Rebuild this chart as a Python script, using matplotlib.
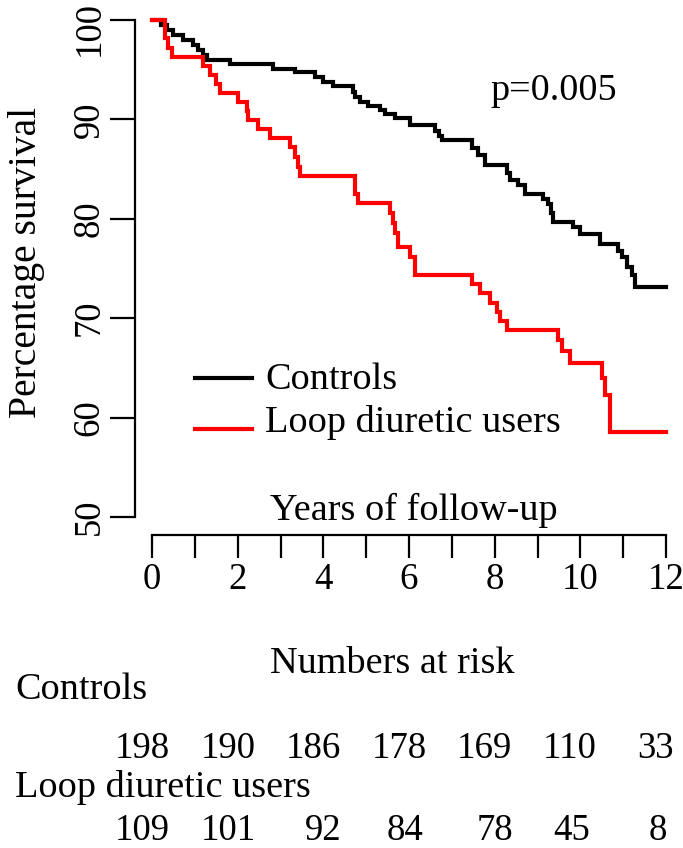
import matplotlib
matplotlib.use("Agg")
import matplotlib.pyplot as plt
from matplotlib.transforms import ScaledTranslation

plt.rcParams['font.family'] = ['Liberation Serif', 'DejaVu Serif']

# Kaplan-Meier steps (years, % surviving)
ctrl_t = [0, 0.20, 0.34, 0.49, 0.72, 0.96, 1.07, 1.19, 1.28, 1.82, 2.83, 3.34, 3.81, 3.99, 4.23,
          4.70, 4.75, 4.86, 5.04, 5.32, 5.44, 5.67, 6.02, 6.61, 6.70, 6.77, 7.47, 7.61, 7.77,
          8.28, 8.36, 8.55, 8.71, 9.13, 9.25, 9.31, 9.36, 9.83, 9.99, 10.46, 10.89, 10.97,
          11.08, 11.20, 11.28, 12.0]
ctrl_s = [100, 99.5, 99.0, 98.5, 98.0, 97.5, 97.0, 96.5, 96.0, 95.6, 95.1, 94.8, 94.3, 93.8, 93.4,
          92.8, 92.3, 91.8, 91.3, 90.9, 90.5, 90.1, 89.4, 88.8, 88.3, 87.9, 87.1, 86.4, 85.4,
          84.6, 83.9, 83.4, 82.5, 82.0, 81.5, 80.6, 79.7, 79.2, 78.5, 77.5, 76.8, 76.2,
          75.2, 74.3, 73.1, 73.1]

loop_t = [0, 0.30, 0.38, 0.46, 1.20, 1.35, 1.50, 1.59, 2.01, 2.21, 2.25, 2.48, 2.76, 3.22, 3.34,
          3.42, 3.46, 4.74, 4.82, 5.56, 5.63, 5.68, 5.74, 6.02, 6.14, 7.46, 7.66, 7.89, 8.05,
          8.13, 8.28, 9.48, 9.57, 9.76, 10.50, 10.58, 10.69, 12.0]
loop_s = [100, 98.2, 97.2, 96.3, 95.4, 94.5, 93.6, 92.7, 91.8, 90.8, 89.9, 89.0, 88.1, 87.2, 86.2,
          85.2, 84.3, 82.5, 81.6, 80.6, 79.6, 78.6, 77.2, 76.2, 74.3, 73.4, 72.5, 71.5, 70.6,
          69.7, 68.8, 67.8, 66.7, 65.5, 64.0, 62.3, 58.6, 58.6]

groups = ["Controls", "Loop diuretic users"]
ctrl_risk = ["198", "190", "186", "178", "169", "110", "33"]
loop_risk = ["109", "101", "92", "84", "78", "45", "8"]
# x centre (pixels) of each number in the at-risk table
ctrl_risk_x = [142, 228, 313, 399, 484, 570, 655]
loop_risk_x = [142, 228, 323, 405, 495, 572, 658]

W, H = 683, 848
fig = plt.figure(figsize=(W / 100, H / 100), dpi=100)

def px(x, y):
    return x / W, 1 - y / H

ax = fig.add_axes([152 / W, (H - 517) / H, 514 / W, 497 / H])
ax.set_xlim(0, 12)
ax.set_ylim(50, 100)

ax.step(ctrl_t, ctrl_s, where='post', color='black', lw=3.0, clip_on=False, solid_joinstyle='miter')
ax.step(loop_t, loop_s, where='post', color='#ff0000', lw=3.0, clip_on=False, solid_joinstyle='miter')

for s in ['top', 'right']:
    ax.spines[s].set_visible(False)
ax.spines['left'].set_position(('outward', 12.5))
ax.spines['bottom'].set_position(('outward', 13))
ax.spines['left'].set_bounds(50, 100)
ax.spines['bottom'].set_bounds(0, 12)
ax.spines['left'].set_linewidth(1.6)
ax.spines['bottom'].set_linewidth(1.6)

ax.set_yticks([50, 60, 70, 80, 90, 100])
ax.set_yticklabels(['50', '60', '70', '80', '90', '100'], rotation=90, va='center')
ax.set_xticks(range(13))
ax.set_xticklabels([str(i) if i % 2 == 0 else '' for i in range(13)])
ax.tick_params(axis='y', length=18, width=1.6, pad=2, labelsize=26.5)
ax.tick_params(axis='x', length=16.5, width=1.6, pad=3, labelsize=26.5)

# top label sits a little lower so it stays inside the picture
top_lab = ax.get_yticklabels()[-1]
top_lab.set_transform(top_lab.get_transform() + ScaledTranslation(0, -0.09, fig.dpi_scale_trans))

fs = 27.5
fig.text(*px(27, 262), "Percentage survival", rotation=90, ha='center', va='center', fontsize=28.5)
fig.text(*px(414, 520), "Years of follow-up", ha='center', va='baseline', fontsize=fs)
fig.text(*px(490, 100), "p=0.005", ha='left', va='baseline', fontsize=fs)

# legend drawn by hand, like the R version
leg = fig.add_axes([0, 0, 1, 1], facecolor='none')
leg.set_xlim(0, W)
leg.set_ylim(H, 0)
leg.axis('off')
leg.plot([195, 252], [378, 378], color='black', lw=3.0)
leg.plot([195, 252], [429, 429], color='#ff0000', lw=3.0)
fig.text(*px(265, 389), groups[0], ha='left', va='baseline', fontsize=fs)
fig.text(*px(265, 432), groups[1], ha='left', va='baseline', fontsize=fs)

# numbers at risk
fig.text(*px(392, 673), "Numbers at risk", ha='center', va='baseline', fontsize=fs)
fig.text(*px(15, 699), groups[0], ha='left', va='baseline', fontsize=fs)
for x, n in zip(ctrl_risk_x, ctrl_risk):
    fig.text(*px(x, 758), n, ha='center', va='baseline', fontsize=26.5)
fig.text(*px(15, 797), groups[1], ha='left', va='baseline', fontsize=fs)
for x, n in zip(loop_risk_x, loop_risk):
    fig.text(*px(x, 840), n, ha='center', va='baseline', fontsize=26.5)

fig.savefig("out.png", dpi=100)
